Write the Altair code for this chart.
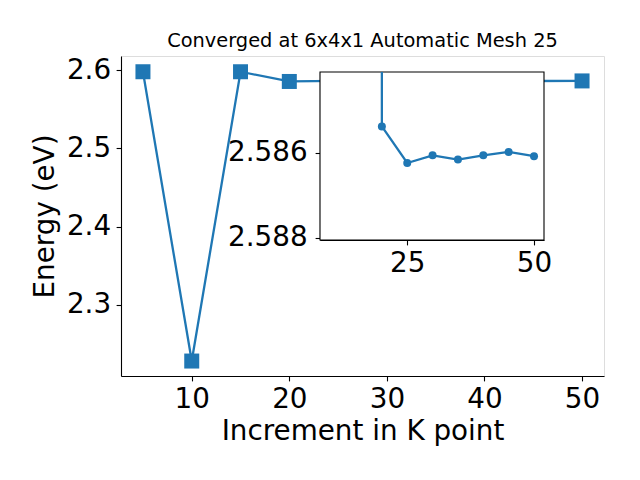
import altair as alt
import pandas as pd

# Main series (Increment in K point vs Energy)
k_points = [5, 10, 15, 20, 25, 30, 35, 40, 45, 50]
energies = [2.5978, 2.2284, 2.5978, 2.58538, 2.58624, 2.58606, 2.58616, 2.58606, 2.58598, 2.58608]

# Inset (zoomed, inverted y) series
inset_k = [20, 25, 30, 35, 40, 45, 50]
inset_e = [2.58538, 2.58624, 2.58606, 2.58616, 2.58606, 2.58598, 2.58608]

main_x_ticks = [10, 20, 30, 40, 50]
main_y_ticks = [2.3, 2.4, 2.5, 2.6]
inset_x_ticks = [25, 50]
inset_y_ticks = [2.586, 2.588]

main_x_domain = [2.75, 52.25]
main_y_domain = [2.2093, 2.6179]
inset_x_domain = [7.8, 51.97]
inset_y_domain = [2.5841, 2.58805]

BLUE = "#1f77b4"
FONT = "DejaVu Sans"
W, H = 483, 320
INSET_X_RANGE = [199, 423]
INSET_Y_RANGE = [16, 184]
LW = 2.3

df_main = pd.DataFrame({"k": k_points, "e": energies})
df_inset = pd.DataFrame({"k": inset_k, "e": inset_e})

axis_common = dict(
    labelFont=FONT, labelFontSize=27.8, labelColor="black",
    titleFont=FONT, titleFontSize=27.8, titleColor="black", titleFontWeight="normal",
    domainColor="black", domainWidth=1.1, tickColor="black", tickWidth=1.1,
    tickSize=4.9, grid=False, labelFlush=False, labelOverlap=False,
)

mx = alt.X("k:Q", scale=alt.Scale(domain=main_x_domain, nice=False, zero=False),
           axis=alt.Axis(values=main_x_ticks, format="d", title="Increment in K point",
                         titlePadding=4, orient="bottom", labelPadding=4.9, **axis_common))
my = alt.Y("e:Q", scale=alt.Scale(domain=main_y_domain, nice=False, zero=False),
           axis=alt.Axis(values=main_y_ticks, format=".1f", title="Energy (eV)",
                         titlePadding=7, orient="left", labelPadding=5.5, **axis_common))

main_base = alt.Chart(df_main).encode(x=mx, y=my)
main_line = main_base.mark_line(color=BLUE, strokeWidth=LW)
main_pts = main_base.mark_point(shape="square", filled=True, size=225, opacity=1, color=BLUE)
main = alt.layer(main_line, main_pts)

ix_scale = alt.Scale(domain=inset_x_domain, range=INSET_X_RANGE, nice=False, zero=False)
iy_scale = alt.Scale(domain=inset_y_domain, range=INSET_Y_RANGE, nice=False, zero=False)

ix = alt.X("k:Q", scale=ix_scale,
           axis=alt.Axis(values=inset_x_ticks, format="d", title=None, orient="bottom",
                         labelPadding=4.9, offset=-(H - INSET_Y_RANGE[1]), **axis_common))
iy = alt.Y("e:Q", scale=iy_scale,
           axis=alt.Axis(values=inset_y_ticks, format=".3f", title=None, orient="left",
                         labelPadding=8, offset=-INSET_X_RANGE[0], **axis_common))

inset_bg = alt.Chart(alt.Data(values=[{}])).mark_rect(
    fill="white", stroke="black", strokeWidth=1.1
).encode(
    x=alt.X(datum=inset_x_domain[0], scale=ix_scale, type="quantitative"),
    x2=alt.datum(inset_x_domain[1]),
    y=alt.Y(datum=inset_y_domain[0], scale=iy_scale, type="quantitative"),
    y2=alt.datum(inset_y_domain[1]),
)

inset_base = alt.Chart(df_inset).encode(x=ix, y=iy)
inset_line = inset_base.mark_line(color=BLUE, strokeWidth=LW)
inset_pts = inset_base.mark_circle(size=64, opacity=1, color=BLUE)
inset_exit = alt.Chart(df_inset).transform_filter(
    alt.datum.k == inset_k[0]
).mark_rule(color=BLUE, strokeWidth=LW).encode(
    x=ix, y=iy, y2=alt.datum(inset_y_domain[0])
)

inset = alt.layer(inset_bg, inset_exit, inset_line, inset_pts)

chart = alt.layer(main, inset).resolve_scale(
    x="independent", y="independent"
).properties(
    width=W, height=H,
    title=alt.TitleParams("Converged at 6x4x1 Automatic Mesh 25", font=FONT, fontSize=19.4,
                          fontWeight="normal", anchor="middle", offset=5, color="black"),
    autosize=alt.AutoSizeParams(type="none"),
    padding={"left": 113, "top": 48, "right": 24, "bottom": 96},
).configure_view(stroke="black", strokeWidth=1.1).configure(background="white")

chart.save("out.html", embed_options={"renderer": "svg", "actions": False})
